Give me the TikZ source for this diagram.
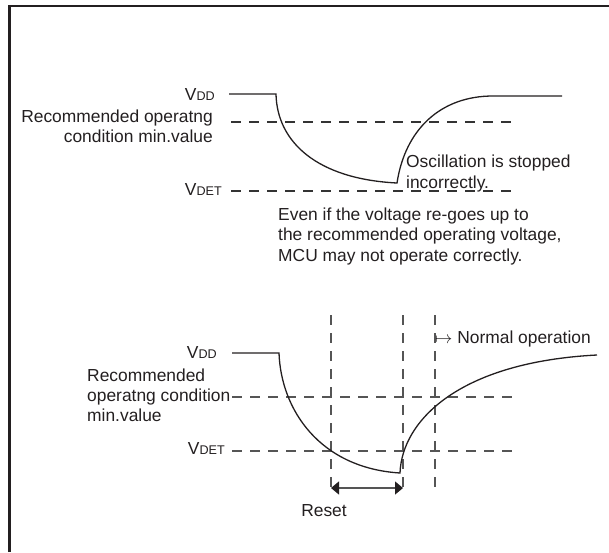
\documentclass[tikz,border=0pt]{standalone}
\usepackage{fontspec}
\setmainfont{Liberation Sans}
\usetikzlibrary{arrows.meta}
\definecolor{ink}{HTML}{231F20}
\definecolor{guide}{HTML}{333333}
\definecolor{guidelow}{HTML}{555555}
% V with a smaller suffix on the same baseline (VDD, VDET)
\newcommand{\volt}[1]{V{\fontsize{12.6}{14}\selectfont #1}}
\begin{document}
\begin{tikzpicture}[x=1pt,y=-1pt,
  lbl/.style={font=\fontsize{17.4}{20.3}\selectfont, text=ink, inner sep=0pt},
  curve/.style={draw=ink, line width=1.3pt},
  guideline/.style={draw=guide, line width=1.2pt, dash pattern=on 10pt off 8pt},
  guidelinelow/.style={draw=guidelow, line width=1.2pt, dash pattern=on 10pt off 8pt},
  frameline/.style={draw=ink, line width=2.4pt}]
\useasboundingbox (0,0) rectangle (609,552);

% frame (top and left edges)
\coordinate (fb) at (9.6,552);
\coordinate (fc) at (9.6,5.8);
\coordinate (fr) at (609,5.8);
\draw[frameline] (fb) -- (fc) -- (fr);

% ---------- upper chart: supply drops without reset ----------
\coordinate (uRa) at (231,122);
\coordinate (uRb) at (515,122);
\coordinate (uDa) at (231,191);
\coordinate (uDb) at (515,191);
\draw[guideline] (uRa) -- (uRb);
\draw[guideline] (uDa) -- (uDb);

\coordinate (u0) at (229,94);
\coordinate (u1) at (276,94);
\coordinate (ub) at (397,183);
\coordinate (ut) at (493,96);
\coordinate (ue) at (562,96);
\draw[curve] (u0) -- (u1) .. controls (277,142) and (317,179) .. (ub)
  .. controls (405,130) and (440,96) .. (ut) -- (ue);

% multi-line labels are anchored on the baseline of their last line
\node[lbl, anchor=base east] (uvdd) at (215,100) {\volt{DD}};
\node[lbl, anchor=base east, align=right] (urec) at (213,142.6)
  {Recommended operatng\\condition min.value};
\node[lbl, anchor=base east] (uvdet) at (222,195) {\volt{DET}};
\node[lbl, anchor=base west, align=left] (osc) at (406,188)
  {Oscillation is stopped\\incorrectly.};
\node[lbl, anchor=base west, align=left] (note) at (278,261)
  {Even if the voltage re-goes up to\\the recommended operating voltage,\\MCU may not operate correctly.};

% ---------- lower chart: reset on voltage detection ----------
\coordinate (lRa) at (232,397);
\coordinate (lRb) at (518,397);
\coordinate (lDa) at (232,451);
\coordinate (lDb) at (518,451);
\draw[guidelinelow] (lRa) -- (lRb);
\draw[guidelinelow] (lDa) -- (lDb);

\foreach \x/\n in {331/va, 403/vb, 435/vc}{
  \coordinate (\n t) at (\x,315);
  \coordinate (\n b) at (\x,492);
  \draw[guidelinelow] (\n t) -- (\n b);
}

\coordinate (l0) at (232,353);
\coordinate (l1) at (279,353);
\coordinate (lb) at (400,473);
\coordinate (le) at (597,355);
\draw[curve] (l0) -- (l1) .. controls (281,410) and (320,468) .. (lb)
  .. controls (402,420) and (460,362) .. (le);

\node[lbl, anchor=base east] (lvdd) at (217,358.3) {\volt{DD}};
\node[lbl, anchor=base west, align=left] (lrec) at (87,421.7)
  {Recommended\\operatng condition\\min.value};
\node[lbl, anchor=base east] (lvdet) at (225,454) {\volt{DET}};
\node[lbl, anchor=base west] (normal) at (435,343.3) {$\mapsto$ Normal operation};

% reset interval
\coordinate (ra) at (331,488);
\coordinate (rb) at (403,488);
\draw[draw=guidelow, line width=1.3pt,
  {Triangle[length=8pt,width=13pt,color=ink]}-{Triangle[length=8pt,width=13pt,color=ink]}]
  (ra) -- (rb);
\node[lbl, anchor=base] (reset) at (324,516) {Reset};
\end{tikzpicture}
\end{document}
